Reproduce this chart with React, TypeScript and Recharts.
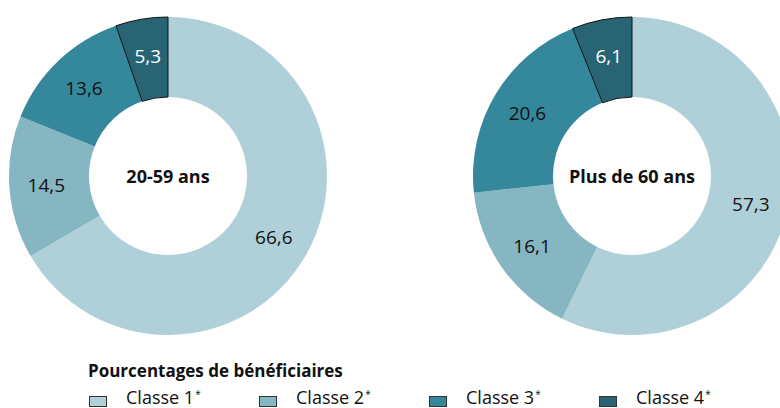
import { PieChart, Pie, Cell } from "recharts";

const classes = ["Classe 1", "Classe 2", "Classe 3", "Classe 4"];
const colors = ["#afd0d9", "#86b6c2", "#35879b", "#286474"];
const ages2059 = [66.6, 14.5, 13.6, 5.3];
const ages60plus = [57.3, 16.1, 20.6, 6.1];
const groupLabels = ["20-59 ans", "Plus de 60 ans"];
const legendTitle = "Pourcentages de bénéficiaires";

const FONT = "'Open Sans', sans-serif";
const RADIAN = Math.PI / 180;
const CY = 176;
const CENTERS = [168, 632];

const toRows = (values: number[]) =>
  classes.map((name, i) => ({ name, value: values[i] }));

function renderLabel(props: any) {
  const { cx, cy, midAngle, innerRadius, outerRadius, value, index } = props;
  const r = (innerRadius + outerRadius) / 2 + 3;
  const x = cx + r * Math.cos(-midAngle * RADIAN);
  const y = cy + r * Math.sin(-midAngle * RADIAN);
  return (
    <text
      x={x}
      y={y}
      fill={index === 3 ? "#ffffff" : "#111111"}
      textAnchor="middle"
      dominantBaseline="central"
      fontSize={19}
      fontFamily={FONT}
    >
      {value.toFixed(1).replace(".", ",")}
    </text>
  );
}

function Donut({ cx, values }: { cx: number; values: number[] }) {
  return (
    <Pie
      key={cx}
      data={toRows(values)}
      dataKey="value"
      cx={cx}
      cy={CY}
      innerRadius={79}
      outerRadius={159}
      startAngle={90}
      endAngle={-270}
      label={renderLabel}
      labelLine={false}
      isAnimationActive={false}
    >
      {values.map((_, i) => (
        <Cell
          key={i}
          fill={colors[i]}
          stroke={i === 3 ? "#111" : "none"}
          strokeWidth={i === 3 ? 1 : 0}
        />
      ))}
    </Pie>
  );
}

export default function App() {
  return (
    <div
      style={{
        position: "absolute",
        left: 0,
        top: 0,
        width: 780,
        height: 408,
        background: "#fff",
        fontFamily: FONT,
        overflow: "hidden",
      }}
    >
      <PieChart width={780} height={408} margin={{ top: 0, right: 0, bottom: 0, left: 0 }}>
        {Donut({ cx: CENTERS[0], values: ages2059 })}
        {Donut({ cx: CENTERS[1], values: ages60plus })}
      </PieChart>

      {/* Centre labels */}
      {groupLabels.map((g, i) => (
        <div
          key={g}
          style={{
            position: "absolute",
            left: CENTERS[i] - 80,
            top: CY - 12,
            width: 160,
            textAlign: "center",
            fontSize: 18,
            fontWeight: "bold",
            color: "#111",
            lineHeight: "24px",
            pointerEvents: "none",
          }}
        >
          {g}
        </div>
      ))}

      {/* Legend */}
      <div
        style={{
          position: "absolute",
          left: 88,
          top: 359,
          fontSize: 17,
          fontWeight: "bold",
          color: "#111",
          lineHeight: "24px",
        }}
      >
        {legendTitle}
      </div>
      {classes.map((c, i) => (
        <div
          key={c}
          style={{
            position: "absolute",
            left: 89 + i * 170,
            top: 385,
            display: "flex",
            alignItems: "center",
            fontSize: 18,
            color: "#111",
            lineHeight: "24px",
          }}
        >
          <span
            style={{
              display: "inline-block",
              width: 16,
              height: 9,
              background: colors[i],
              border: "1px solid #333",
              marginRight: 19,
              marginTop: 8,
            }}
          />
          <span>
            {c}
            <span style={{ fontSize: 10, verticalAlign: "top", position: "relative", top: -3, marginLeft: 1 }}>*</span>
          </span>
        </div>
      ))}
    </div>
  );
}
